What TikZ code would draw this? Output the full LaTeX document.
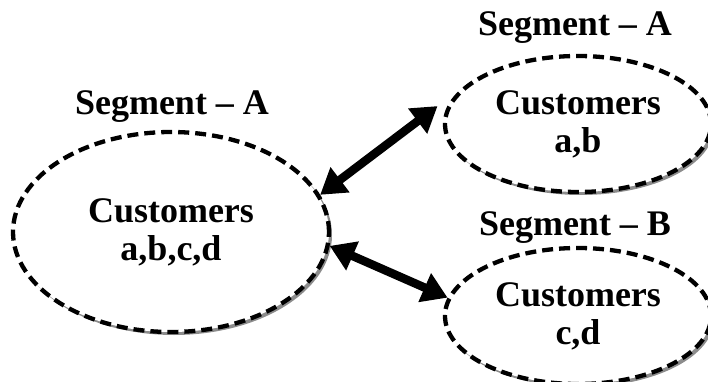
\documentclass[tikz,border=0pt]{standalone}
\usepackage{fontspec}
\setmainfont{Liberation Serif}
\usetikzlibrary{shapes.geometric,arrows.meta,shadows}
\tikzset{
  seg/.style={ellipse, draw=black, fill=white, line width=4.3pt,
    dash pattern=on 11pt off 6pt, inner sep=0pt, align=center,
    font=\fontsize{36}{38}\selectfont\bfseries,
    general shadow={shadow xshift=3pt, shadow yshift=-3pt, fill=black!45}},
  seglabel/.style={inner sep=0pt, font=\fontsize{36}{38}\selectfont\bfseries},
  link/.style={line width=8.5pt, {Triangle[length=25pt,width=30pt]}-{Triangle[length=25pt,width=30pt]}}
}
\begin{document}
\begin{tikzpicture}[x=1pt,y=-1pt]
\useasboundingbox (0,0) rectangle (708,382);
% customer groups
\node[seg, minimum width=316pt, minimum height=200pt] (all) at (171,232) {Customers\\a,b,c,d};
\node[seg, minimum width=266pt, minimum height=136pt] (ab) at (578,124) {Customers\\a,b};
\node[seg, minimum width=266pt, minimum height=136pt] (cd) at (578,316) {Customers\\c,d};
% segment titles
\node[seglabel] (tA) at (172,107) {Segment -- A};
\node[seglabel] (tA2) at (575,28) {Segment -- A};
\node[seglabel] (tB) at (575,228) {Segment -- B};
% two-way links
\draw[link] (all.14) -- ([xshift=-8pt,yshift=4pt]ab.174);
\draw[link] (all.-5) -- (cd.172);
\end{tikzpicture}
\end{document}
